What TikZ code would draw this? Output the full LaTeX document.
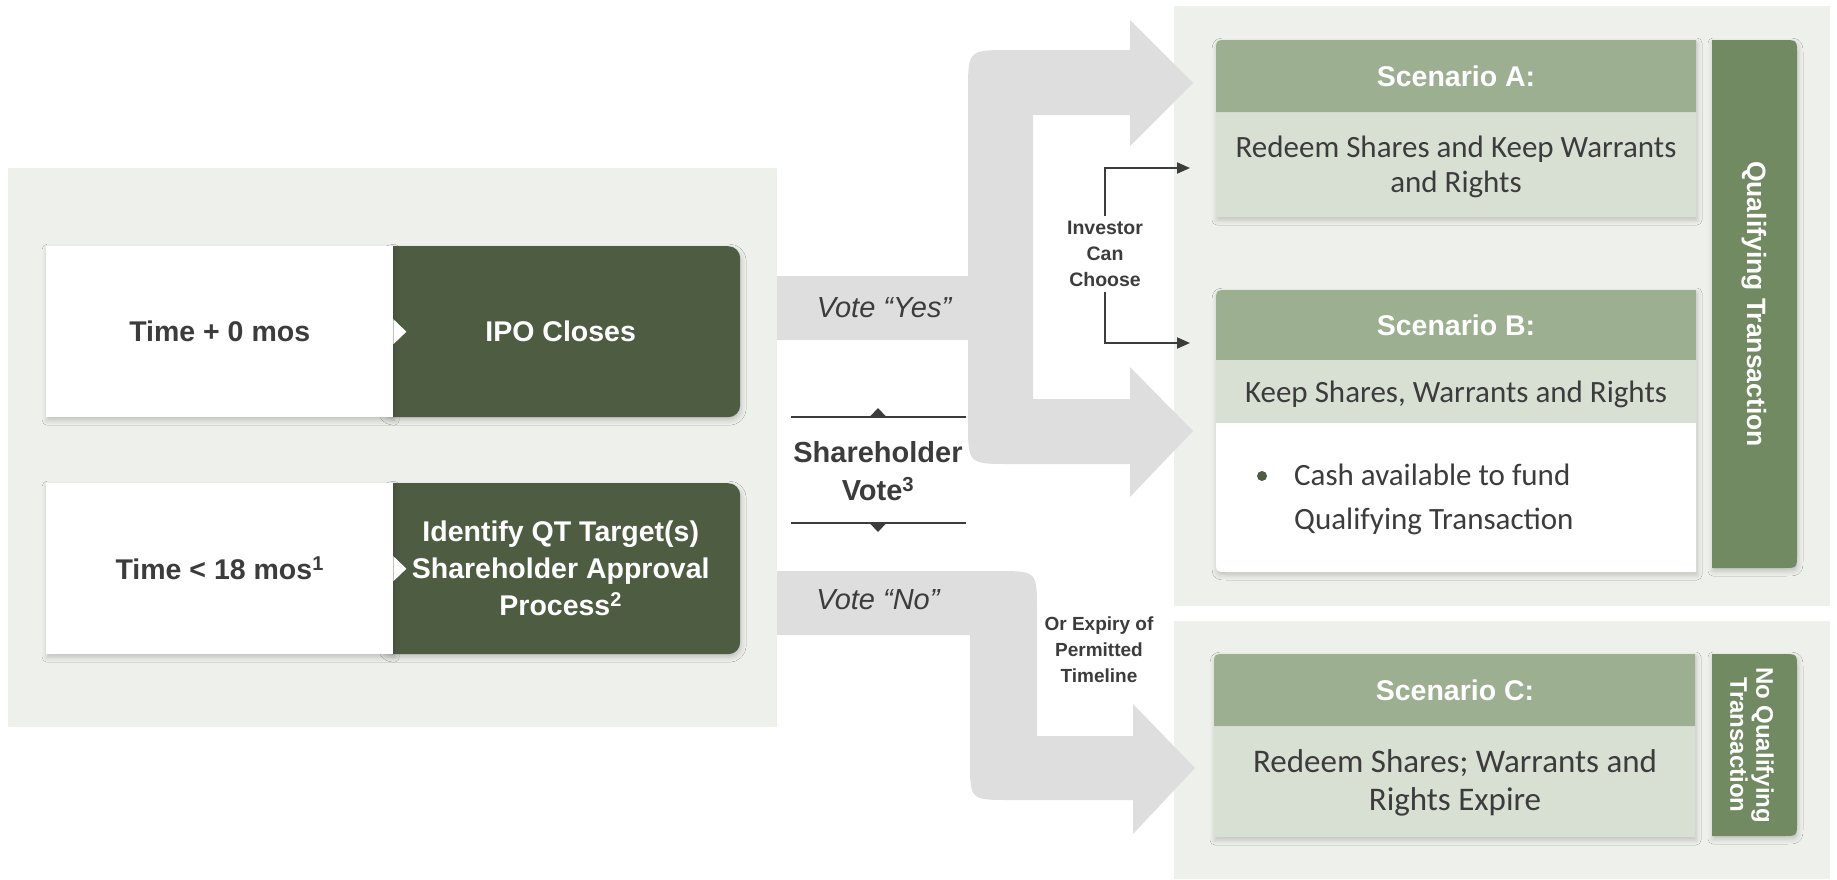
\documentclass[tikz,border=0pt]{standalone}
\usepackage{fontspec}
\setmainfont{Carlito}
\newfontfamily\labelfont{Liberation Sans}
\usetikzlibrary{arrows.meta,shadows.blur}
\definecolor{panelbg}{HTML}{EEF0EB}
\definecolor{darkgreen}{HTML}{4E5C42}
\definecolor{headgreen}{HTML}{9CAF91}
\definecolor{bodygreen}{HTML}{D8E0D4}
\definecolor{bargreen}{HTML}{728A62}
\definecolor{arrowgray}{HTML}{DEDEDE}
\definecolor{textgray}{HTML}{3C3C3C}

\begin{document}
\begin{tikzpicture}[x=1pt,y=-1pt,
    softshadow/.style={blur shadow={shadow xshift=1pt,shadow yshift=-3pt,shadow blur radius=5pt,shadow opacity=20}},
    timebox/.style={anchor=north west,fill=white,minimum width=347pt,minimum height=171pt,inner sep=0pt,softshadow,text=textgray,font=\labelfont\fontsize{28.5}{37}\selectfont\bfseries},
    stepbox/.style={anchor=north west,fill=darkgreen,rounded corners=12pt,minimum width=359pt,minimum height=171pt,inner sep=0pt,softshadow,text=white,align=center,font=\labelfont\fontsize{28.5}{37}\selectfont\bfseries},
    headtext/.style={text=white,inner sep=0pt,font=\labelfont\fontsize{28.5}{37}\selectfont\bfseries},
    bodytext/.style={text=textgray,align=center,inner sep=0pt,font=\fontsize{31}{35}\selectfont},
    votetext/.style={text=textgray,inner sep=0pt,font=\labelfont\fontsize{29}{36}\selectfont\itshape},
    smalllabel/.style={text=textgray,align=center,inner sep=5pt,font=\labelfont\fontsize{19.5}{26}\selectfont\bfseries},
    biglabel/.style={text=textgray,align=center,inner sep=0pt,font=\labelfont\fontsize{29}{38}\selectfont\bfseries},
    bartext/.style={text=white,align=center,inner sep=0pt,rotate=-90,font=\labelfont\fontsize{26.5}{26}\selectfont\bfseries},
    choice/.style={draw=textgray,line width=2pt,-{Triangle[length=13pt,width=11pt]}},
    voteline/.style={draw=textgray,line width=1.5pt},
    bigarrow/.style={fill=arrowgray}]
    \useasboundingbox (0,0) rectangle (1837,879);
    \fill[panelbg] (8,168) rectangle (777,727);
    \fill[panelbg] (1174,6) rectangle (1830,606);
    \fill[panelbg] (1174,621) rectangle (1830,879);

    \fill[bigarrow] (777,276) -- (968,276) -- (968,92) .. controls (968,50) .. (1010,50) -- (1130,50) -- (1130,20) -- (1193,83) -- (1130,146) -- (1130,115) -- (1033,115) -- (1033,399) -- (1130,399) -- (1130,367) -- (1193,431) -- (1130,497) -- (1130,464) -- (1010,464) .. controls (968,464) .. (968,422) -- (968,340) -- (777,340) -- cycle;
    \fill[bigarrow] (777,571) -- (997,571) .. controls (1037,571) .. (1037,611) -- (1037,736) -- (1133,736) -- (1133,704) -- (1195,768) -- (1133,834) -- (1133,800) -- (1010,800) .. controls (970,800) .. (970,760) -- (970,635) -- (777,635) -- cycle;

    \node[stepbox] (ipo) at (381,246) {IPO Closes};
    \node[timebox] (t0) at (46,246) {Time + 0 mos};
    \fill[white] (t0.east) ++(0,-12.5) -- ++(13,12.5) -- ++(-13,12.5) -- cycle;
    \node[stepbox] (qt) at (381,483) {Identify QT Target(s)\\Shareholder Approval\\Process\textsuperscript{2}};
    \node[timebox] (t18) at (46,483) {Time < 18 mos\textsuperscript{1}};
    \fill[white] (t18.east) ++(0,-12.5) -- ++(13,12.5) -- ++(-13,12.5) -- cycle;

    \node[votetext] (yes) at (884,308) {Vote “Yes”};
    \node[votetext] (no) at (878,600) {Vote “No”};
    \node[biglabel] (vote) at (878,471) {Shareholder\\Vote\textsuperscript{3}};
    \draw[voteline] (791,417) -- (966,417);
    \fill[textgray] (869.5,417) -- (878,408) -- (886.5,417) -- cycle;
    \draw[voteline] (791,523) -- (966,523);
    \fill[textgray] (869.5,523) -- (878,532) -- (886.5,523) -- cycle;

    \node[smalllabel] (inv) at (1105,254) {Investor\\Can\\Choose};
    \coordinate (toA) at (1190,168);
    \coordinate (toB) at (1190,343);
    \draw[choice] (inv.north) |- (toA);
    \draw[choice] (inv.south) |- (toB);
    \node[smalllabel,font=\labelfont\fontsize{19}{26}\selectfont\bfseries] (expiry) at (1099,650) {Or Expiry of\\Permitted\\Timeline};

    \fill[bodygreen,softshadow] (1216,217) -- (1216,52) .. controls (1216,40) .. (1228,40) -- (1696,40) -- (1696,217) -- cycle;
    \fill[headgreen] (1216,112) -- (1216,52) .. controls (1216,40) .. (1228,40) -- (1696,40) -- (1696,112) -- cycle;
    \node[headtext] (scA) at (1456,76) {Scenario A:};
    \node[bodytext] (scAbody) at (1456,167) {Redeem Shares and Keep Warrants\\and Rights};

    \fill[white,softshadow] (1216,560) -- (1216,302) .. controls (1216,290) .. (1228,290) -- (1696,290) -- (1696,572) -- (1228,572) .. controls (1216,572) .. (1216,560) -- cycle;
    \fill[headgreen] (1216,360) -- (1216,302) .. controls (1216,290) .. (1228,290) -- (1696,290) -- (1696,360) -- cycle;
    \fill[bodygreen] (1216,360) rectangle (1696,423);
    \node[headtext] (scB) at (1456,325) {Scenario B:};
    \node[bodytext] (scBbody) at (1456,394) {Keep Shares, Warrants and Rights};
    \fill[darkgreen] (1262,476) circle (5pt);
    \node[bodytext,align=left,anchor=west,font=\fontsize{31}{44}\selectfont] (cash) at (1294,499) {Cash available to fund\\Qualifying Transaction};

    \fill[bodygreen,softshadow] (1214,837) -- (1214,666) .. controls (1214,654) .. (1226,654) -- (1695,654) -- (1695,837) -- cycle;
    \fill[headgreen] (1214,726) -- (1214,666) .. controls (1214,654) .. (1226,654) -- (1695,654) -- (1695,726) -- cycle;
    \node[headtext] (scC) at (1455,690) {Scenario C:};
    \node[bodytext,font=\fontsize{33}{38}\selectfont] (scCbody) at (1455,783) {Redeem Shares; Warrants and\\Rights Expire};

    \fill[bargreen,softshadow] (1712,40) -- (1783,40) .. controls (1797,40) .. (1797,54) -- (1797,554) .. controls (1797,568) .. (1783,568) -- (1712,568) -- cycle;
    \node[bartext] (qtbar) at (1754,304) {Qualifying Transaction};
    \fill[bargreen,softshadow] (1712,654) -- (1783,654) .. controls (1797,654) .. (1797,668) -- (1797,822) .. controls (1797,836) .. (1783,836) -- (1712,836) -- cycle;
    \node[bartext,font=\labelfont\fontsize{24}{26}\selectfont\bfseries] (noqt) at (1752,745) {No Qualifying\\Transaction};
\end{tikzpicture}
\end{document}
